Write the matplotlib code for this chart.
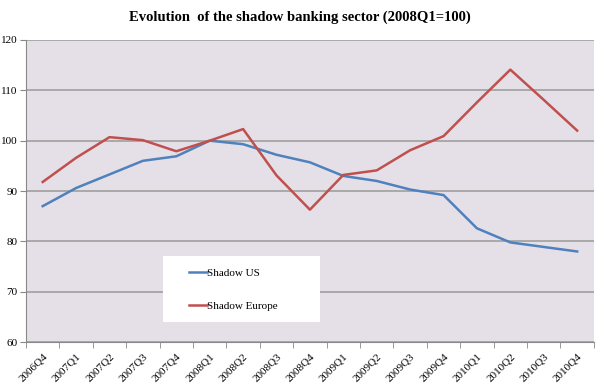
import matplotlib
matplotlib.use("Agg")
import matplotlib.pyplot as plt
from matplotlib.patches import Rectangle

quarters = ["2006Q4", "2007Q1", "2007Q2", "2007Q3", "2007Q4", "2008Q1", "2008Q2",
            "2008Q3", "2008Q4", "2009Q1", "2009Q2", "2009Q3", "2009Q4", "2010Q1",
            "2010Q2", "2010Q3", "2010Q4"]
shadow_us = [87.0, 90.6, 93.3, 96.0, 96.9, 100.0, 99.3, 97.2, 95.7, 93.0,
             92.0, 90.3, 89.2, 82.6, 79.8, 78.9, 78.0]
shadow_europe = [91.8, 96.6, 100.7, 100.1, 97.9, 100.0, 102.3, 93.1, 86.3, 93.2,
                 94.1, 98.1, 100.9, 107.6, 114.1, 108.1, 102.0]

plt.rcParams["font.family"] = ["Liberation Serif", "DejaVu Serif"]

fig = plt.figure(figsize=(5.99, 3.84), dpi=100)
ax = fig.add_axes([0.0434, 0.109, 0.948, 0.787])
ax.set_facecolor("#E5E0E7")

x = list(range(len(quarters)))
ax.plot(x, shadow_us, color="#4F81BD", lw=1.8, label="Shadow US", zorder=3)
ax.plot(x, shadow_europe, color="#C0504D", lw=1.8, label="Shadow Europe", zorder=3)

ax.set_ylim(60, 120)
ax.set_yticks(range(60, 121, 10))
ax.set_xlim(-0.5, len(quarters) - 0.5)
ax.set_xticks(x)
ax.set_xticklabels(quarters, rotation=45, ha="right", rotation_mode="anchor", fontsize=8)
ax.set_xticks([i - 0.5 for i in range(len(quarters) + 1)], minor=True)
ax.tick_params(axis="x", which="major", length=0, pad=7)
ax.tick_params(axis="x", which="minor", length=4, color="#888888")
ax.tick_params(axis="y", length=4, color="#888888", labelsize=8, pad=2)

ax.yaxis.grid(True, color="#A0A0A0", lw=1.2)
ax.set_axisbelow(True)
for side in ["top", "right"]:
    ax.spines[side].set_visible(False)
ax.spines["left"].set_color("#888888")
ax.spines["bottom"].set_color("#888888")

# white legend box
ax.add_patch(Rectangle((0.241, 0.066), 0.276, 0.219, transform=ax.transAxes,
                       facecolor="white", edgecolor="none", zorder=4))
leg = ax.legend(loc="center left", bbox_to_anchor=(0.27, 0.175), frameon=False,
                fontsize=8, handlelength=1.6, handletextpad=0.0,
                labelspacing=2.1)
leg.set_zorder(5)

fig.text(0.5, 0.955, "Evolution  of the shadow banking sector (2008Q1=100)",
         ha="center", va="center", fontsize=10.5, fontweight="bold")

fig.savefig("out.png", dpi=100)
